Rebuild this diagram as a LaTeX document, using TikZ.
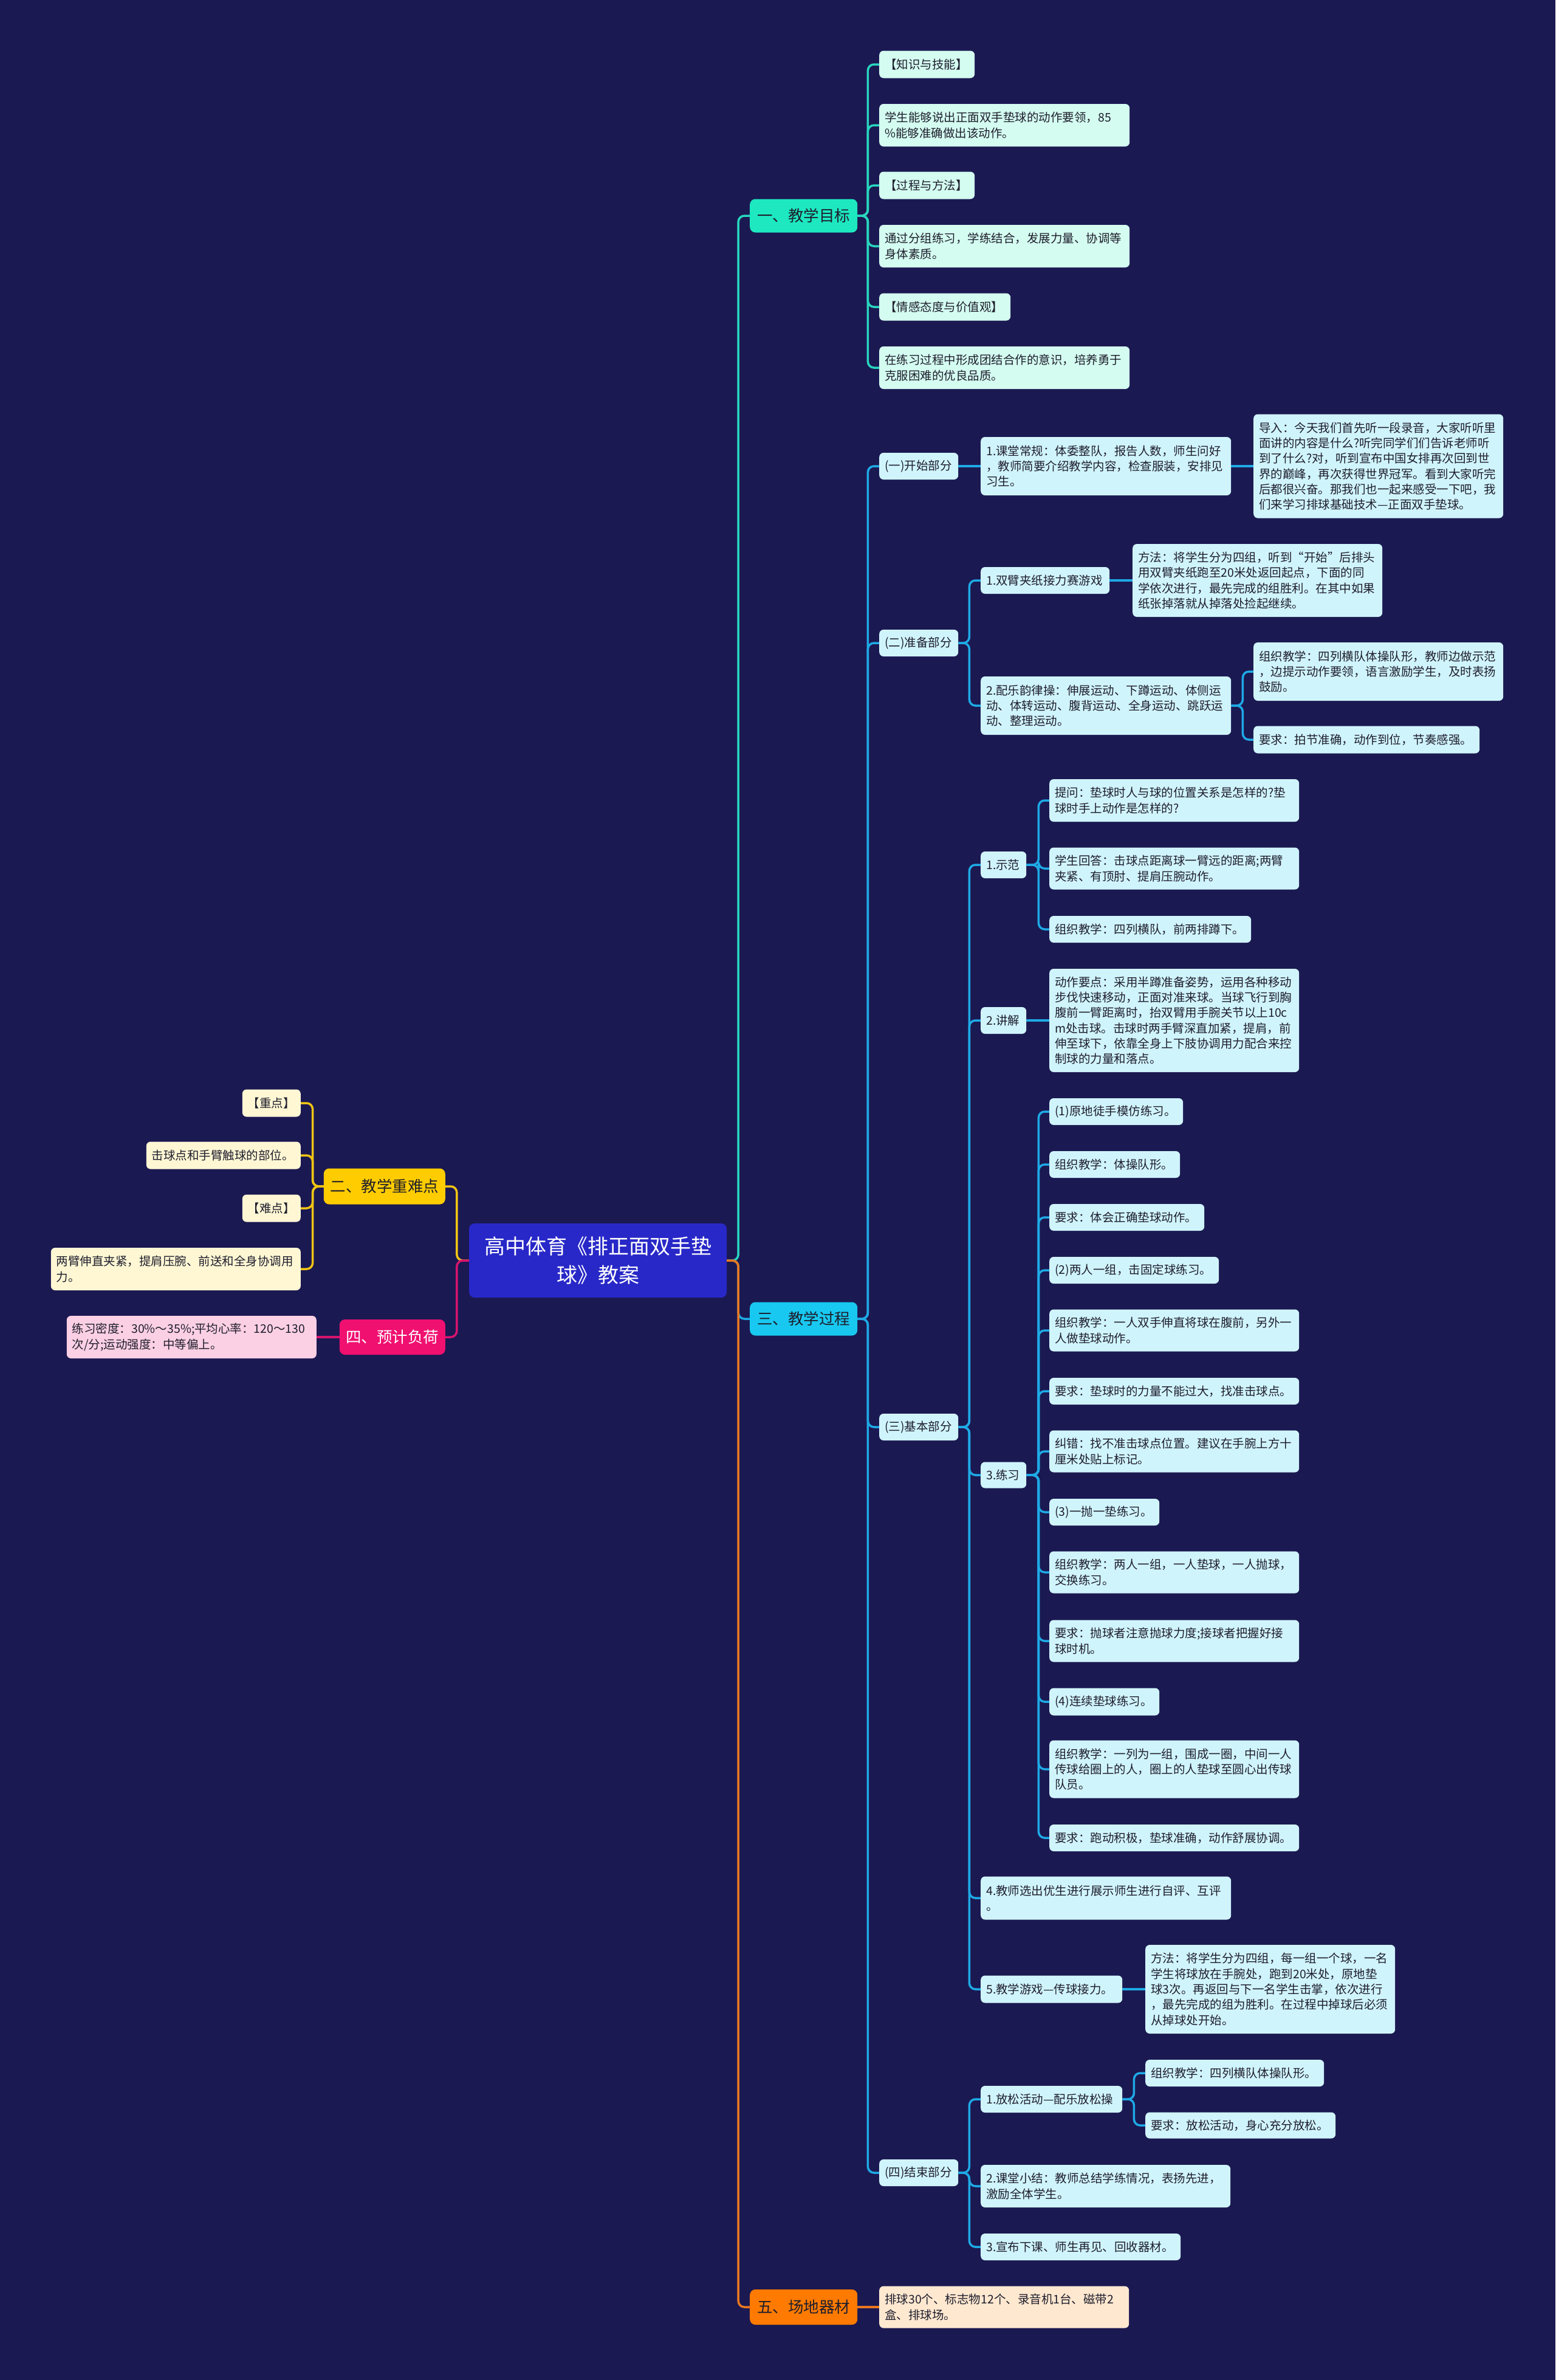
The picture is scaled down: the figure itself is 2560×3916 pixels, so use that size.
\documentclass[tikz,border=0pt]{standalone}
\usepackage{fontspec}
\setmainfont{Noto Sans CJK SC}
\definecolor{bgc}{RGB}{27,25,82}
\definecolor{ink}{RGB}{30,30,45}
\definecolor{rootc}{RGB}{40,40,200}
\definecolor{b1c}{RGB}{29,232,192}
\definecolor{b2c}{RGB}{255,204,0}
\definecolor{b3c}{RGB}{24,200,240}
\definecolor{b4c}{RGB}{240,16,112}
\definecolor{b5c}{RGB}{255,122,0}
\definecolor{lf1}{RGB}{212,252,240}
\definecolor{lf2}{RGB}{255,247,212}
\definecolor{lf3}{RGB}{208,244,252}
\definecolor{lf4}{RGB}{252,208,228}
\definecolor{lf5}{RGB}{255,232,208}
\definecolor{c1}{RGB}{40,214,190}
\definecolor{c2}{RGB}{240,196,20}
\definecolor{c3}{RGB}{30,170,230}
\definecolor{c4}{RGB}{214,20,110}
\definecolor{c5}{RGB}{235,120,30}
\tikzset{
  bx/.style={rounded corners=7pt, inner xsep=9pt, inner ysep=2pt, align=left, text=ink, font=\fontsize{19.5}{25.3}\selectfont},
  LA/.style={bx, fill=lf1}, LB/.style={bx, fill=lf2}, LC/.style={bx, fill=lf3}, LD/.style={bx, fill=lf4}, LE/.style={bx, fill=lf5},
  br/.style={rounded corners=9pt, inner sep=0pt, align=center, text=ink, font=\fontsize{25.5}{30}\selectfont},
  cn/.style={line width=3.5pt, rounded corners=10pt},
}
\newcommand{\mmnode}[6]{\node[#1, text width=#4pt, minimum height=#5pt] (#2) at #3 {#6};}
\newcommand{\mmelb}[4]{\draw[cn,#1] (#2) -- ++(#3,0) |- (#4);}
\begin{document}
\begin{tikzpicture}[x={(1pt,0)}, y={(0,-1pt)}]
\useasboundingbox (0,0) rectangle (2560,3916);
\fill[bgc] (0,0) rectangle (2560,3916);

% root
\node[fill=rootc, rounded corners=9pt, minimum width=424pt, minimum height=122pt, align=center, text=white, font=\fontsize{34}{47}\selectfont, inner sep=0pt] (root) at (984,2074) {高中体育《排正面双手垫\\球》教案};

% branches
\node[br, fill=b1c, minimum width=177pt, minimum height=55pt, anchor=west] (br1) at (1234,355) {一、教学目标};
\node[br, fill=b3c, minimum width=177pt, minimum height=55pt, anchor=west] (br3) at (1234,2170) {三、教学过程};
\node[br, fill=b5c, minimum width=177pt, minimum height=58pt, anchor=west] (br5) at (1234,3796) {五、场地器材};
\node[br, fill=b2c, minimum width=200pt, minimum height=59pt, anchor=east] (br2) at (733,1952) {二、教学重难点};
\node[br, fill=b4c, text=white, minimum width=174pt, minimum height=58pt, anchor=east] (br4) at (733,2200) {四、预计负荷};

% branch 1 leaves
\mmnode{LA,anchor=west}{a1}{(1447,106)}{139}{45}{【知识与技能】}
\mmnode{LA,anchor=west}{a2}{(1447,206)}{394}{70}{学生能够说出正面双手垫球的动作要领，85\\\%能够准确做出该动作。}
\mmnode{LA,anchor=west}{a3}{(1447,305)}{139}{45}{【过程与方法】}
\mmnode{LA,anchor=west}{a4}{(1447,405)}{394}{70}{通过分组练习，学练结合，发展力量、协调等\\身体素质。}
\mmnode{LA,anchor=west}{a5}{(1447,505)}{198}{45}{【情感态度与价值观】}
\mmnode{LA,anchor=west}{a6}{(1447,605)}{394}{70}{在练习过程中形成团结合作的意识，培养勇于\\克服困难的优良品质。}

% branch 3 level 2
\mmnode{LC,anchor=west}{b1}{(1447,767)}{112}{44}{(一)开始部分}
\mmnode{LC,anchor=west}{b2}{(1447,1058)}{112}{44}{(二)准备部分}
\mmnode{LC,anchor=west}{b3}{(1447,2348)}{112}{44}{(三)基本部分}
\mmnode{LC,anchor=west}{b4}{(1447,3575)}{112}{44}{(四)结束部分}

% start part
\mmnode{LC,anchor=west}{c11}{(1614,767)}{394}{96}{1.课堂常规：体委整队，报告人数，师生问好\\，教师简要介绍教学内容，检查服装，安排见\\习生。}
\mmnode{LC,anchor=west}{d111}{(2063,767)}{393}{171}{导入：今天我们首先听一段录音，大家听听里\\面讲的内容是什么?听完同学们们告诉老师听\\到了什么?对，听到宣布中国女排再次回到世\\界的巅峰，再次获得世界冠军。看到大家听完\\后都很兴奋。那我们也一起来感受一下吧，我\\们来学习排球基础技术—正面双手垫球。}

% preparation part
\mmnode{LC,anchor=west}{c21}{(1614,955)}{194}{44}{1.双臂夹纸接力赛游戏}
\mmnode{LC,anchor=west}{d211}{(1864,955)}{393}{120}{方法：将学生分为四组，听到“开始”后排头\\用双臂夹纸跑至20米处返回起点，下面的同\\学依次进行，最先完成的组胜利。在其中如果\\纸张掉落就从掉落处捡起继续。}
\mmnode{LC,anchor=west}{c22}{(1614,1161)}{394}{96}{2.配乐韵律操：伸展运动、下蹲运动、体侧运\\动、体转运动、腹背运动、全身运动、跳跃运\\动、整理运动。}
\mmnode{LC,anchor=west}{d221}{(2063,1105)}{393}{96}{组织教学：四列横队体操队形，教师边做示范\\，边提示动作要领，语言激励学生，及时表扬\\鼓励。}
\mmnode{LC,anchor=west}{d222}{(2063,1217)}{354}{45}{要求：拍节准确，动作到位，节奏感强。}

% basic part
\mmnode{LC,anchor=west}{c31}{(1614,1423)}{57}{44}{1.示范}
\mmnode{LC,anchor=west}{d311}{(1727,1317)}{393}{70}{提问：垫球时人与球的位置关系是怎样的?垫\\球时手上动作是怎样的?}
\mmnode{LC,anchor=west}{d312}{(1727,1429)}{393}{69}{学生回答：击球点距离球一臂远的距离;两臂\\夹紧、有顶肘、提肩压腕动作。}
\mmnode{LC,anchor=west}{d313}{(1727,1529)}{314}{44}{组织教学：四列横队，前两排蹲下。}
\mmnode{LC,anchor=west}{c32}{(1614,1679)}{57}{44}{2.讲解}
\mmnode{LC,anchor=west}{d321}{(1727,1679)}{393}{170}{动作要点：采用半蹲准备姿势，运用各种移动\\步伐快速移动，正面对准来球。当球飞行到胸\\腹前一臂距离时，抬双臂用手腕关节以上10c\\m处击球。击球时两手臂深直加紧，提肩，前\\伸至球下，依靠全身上下肢协调用力配合来控\\制球的力量和落点。}
\mmnode{LC,anchor=west}{c33}{(1614,2427)}{57}{43}{3.练习}
\mmnode{LC,anchor=west}{p1}{(1727,1829)}{202}{44}{(1)原地徒手模仿练习。}
\mmnode{LC,anchor=west}{p2}{(1727,1916)}{197}{44}{组织教学：体操队形。}
\mmnode{LC,anchor=west}{p3}{(1727,2003)}{237}{44}{要求：体会正确垫球动作。}
\mmnode{LC,anchor=west}{p4}{(1727,2090)}{261}{44}{(2)两人一组，击固定球练习。}
\mmnode{LC,anchor=west}{p5}{(1727,2189)}{393}{69}{组织教学：一人双手伸直将球在腹前，另外一\\人做垫球动作。}
\mmnode{LC,anchor=west}{p6}{(1727,2289)}{393}{44}{要求：垫球时的力量不能过大，找准击球点。}
\mmnode{LC,anchor=west}{p7}{(1727,2388)}{393}{69}{纠错：找不准击球点位置。建议在手腕上方十\\厘米处贴上标记。}
\mmnode{LC,anchor=west}{p8}{(1727,2488)}{163}{44}{(3)一抛一垫练习。}
\mmnode{LC,anchor=west}{p9}{(1727,2587)}{393}{69}{组织教学：两人一组，一人垫球，一人抛球，\\交换练习。}
\mmnode{LC,anchor=west}{p10}{(1727,2700)}{393}{69}{要求：抛球者注意抛球力度;接球者把握好接\\球时机。}
\mmnode{LC,anchor=west}{p11}{(1727,2800)}{163}{45}{(4)连续垫球练习。}
\mmnode{LC,anchor=west}{p12}{(1727,2911)}{393}{95}{组织教学：一列为一组，围成一圈，中间一人\\传球给圈上的人，圈上的人垫球至圆心出传球\\队员。}
\mmnode{LC,anchor=west}{p13}{(1727,3024)}{393}{44}{要求：跑动积极，垫球准确，动作舒展协调。}
\mmnode{LC,anchor=west}{c34}{(1614,3123)}{394}{71}{4.教师选出优生进行展示师生进行自评、互评\\。}
\mmnode{LC,anchor=west}{c35}{(1614,3273)}{215}{45}{5.教学游戏—传球接力。}
\mmnode{LC,anchor=west}{d351}{(1885,3273)}{393}{146}{方法：将学生分为四组，每一组一个球，一名\\学生将球放在手腕处，跑到20米处，原地垫\\球3次。再返回与下一名学生击掌，依次进行\\，最先完成的组为胜利。在过程中掉球后必须\\从掉球处开始。}

% end part
\mmnode{LC,anchor=west}{c41}{(1614,3454)}{215}{44}{1.放松活动—配乐放松操}
\mmnode{LC,anchor=west}{d411}{(1885,3411)}{276}{44}{组织教学：四列横队体操队形。}
\mmnode{LC,anchor=west}{d412}{(1885,3497)}{295}{43}{要求：放松活动，身心充分放松。}
\mmnode{LC,anchor=west}{c42}{(1614,3597)}{393}{70}{2.课堂小结：教师总结学练情况，表扬先进，\\激励全体学生。}
\mmnode{LC,anchor=west}{c43}{(1614,3697)}{311}{44}{3.宣布下课、师生再见、回收器材。}

% branch 5 leaf
\mmnode{LE,anchor=west}{e1}{(1447,3796)}{393}{69}{排球30个、标志物12个、录音机1台、磁带2\\盒、排球场。}

% left side
\mmnode{LB,anchor=east}{y1}{(495,1815)}{78}{45}{【重点】}
\mmnode{LB,anchor=east}{y2}{(495,1901)}{236}{45}{击球点和手臂触球的部位。}
\mmnode{LB,anchor=east}{y3}{(495,1988)}{78}{45}{【难点】}
\mmnode{LB,anchor=east}{y4}{(495,2088)}{393}{70}{两臂伸直夹紧，提肩压腕、前送和全身协调用\\力。}
\mmnode{LD,anchor=east}{q1}{(521,2200)}{393}{70}{练习密度：30\%～35\%;平均心率：120～130\\次/分;运动强度：中等偏上。}

% connectors: root
\mmelb{c1}{root.east}{19}{br1.west}
\mmelb{c3}{root.east}{19}{br3.west}
\mmelb{c5}{root.east}{19}{br5.west}
\mmelb{c2}{root.west}{-20}{br2.east}
\mmelb{c4}{root.west}{-20}{br4.east}

% branch 1
\foreach \n in {a1,a2,a3,a4,a5,a6} {\mmelb{c1}{br1.east}{17}{\n.west}}
% branch 2
\foreach \n in {y1,y2,y3,y4} {\mmelb{c2}{br2.west}{-18}{\n.east}}
% branch 4
\draw[cn,c4] (br4.west) -- (q1.east);
% branch 5
\draw[cn,c5] (br5.east) -- (e1.west);
% branch 3
\foreach \n in {b1,b2,b3,b4} {\mmelb{c3}{br3.east}{17}{\n.west}}
\draw[cn,c3] (b1.east) -- (c11.west);
\draw[cn,c3] (c11.east) -- (d111.west);
\mmelb{c3}{b2.east}{18}{c21.west}
\mmelb{c3}{b2.east}{18}{c22.west}
\draw[cn,c3] (c21.east) -- (d211.west);
\mmelb{c3}{c22.east}{19}{d221.west}
\mmelb{c3}{c22.east}{19}{d222.west}
\foreach \n in {c31,c32,c33,c34,c35} {\mmelb{c3}{b3.east}{18}{\n.west}}
\foreach \n in {d311,d312,d313} {\mmelb{c3}{c31.east}{20}{\n.west}}
\draw[cn,c3] (c32.east) -- (d321.west);
\foreach \n in {p1,p2,p3,p4,p5,p6,p7,p8,p9,p10,p11,p12,p13} {\mmelb{c3}{c33.east}{20}{\n.west}}
\draw[cn,c3] (c35.east) -- (d351.west);
\foreach \n in {c41,c42,c43} {\mmelb{c3}{b4.east}{18}{\n.west}}
\mmelb{c3}{c41.east}{19}{d411.west}
\mmelb{c3}{c41.east}{19}{d412.west}
\end{tikzpicture}
\end{document}
